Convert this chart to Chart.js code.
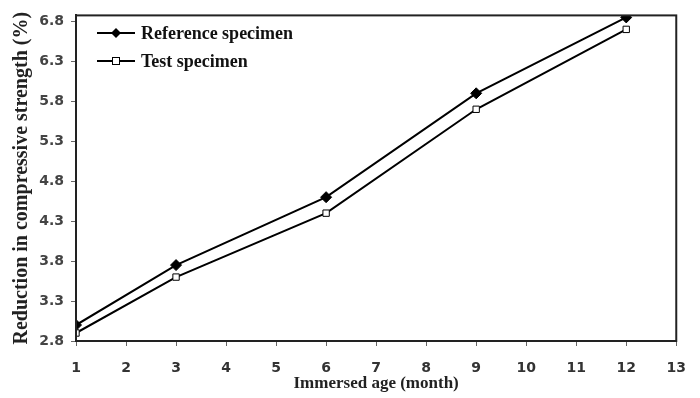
<!DOCTYPE html>
<html>
<head>
<meta charset="utf-8">
<script src="https://cdn.jsdelivr.net/npm/chart.js@4/dist/chart.umd.min.js"></script>
<style>
html,body{margin:0;padding:0;background:#fff;}
#wrap{width:700px;height:398px;}
</style>
</head>
<body>
<div id="wrap"><canvas id="c" width="700" height="398"></canvas></div>
<script>
const months = [1, 3, 6, 9, 12];
const referenceSpecimen = [3.0, 3.75, 4.6, 5.9, 6.85];
const testSpecimen = [2.9, 3.6, 4.4, 5.7, 6.7];
const yTicks = [2.8, 3.3, 3.8, 4.3, 4.8, 5.3, 5.8, 6.3, 6.8];
const xTicks = [1,2,3,4,5,6,7,8,9,10,11,12,13];

const serif = '"Liberation Serif", "Times New Roman", serif';
const sans = '"DejaVu Sans", sans-serif';

const boxPlugin = {
  id: 'box',
  afterDraw(chart) {
    const a = chart.chartArea, ctx = chart.ctx;
    ctx.save();
    ctx.strokeStyle = '#222';
    ctx.lineWidth = 2;
    ctx.strokeRect(a.left, a.top, a.right - a.left, a.bottom - a.top);
    // legend
    const items = chart.data.datasets;
    ctx.font = 'bold 18px ' + serif;
    ctx.textBaseline = 'middle';
    items.forEach((ds, i) => {
      const y = 33 + i * 28;
      ctx.strokeStyle = '#000';
      ctx.lineWidth = 2;
      ctx.beginPath(); ctx.moveTo(97, y); ctx.lineTo(135, y); ctx.stroke();
      const cx = 116;
      if (ds.pointStyle === 'rectRot') {
        ctx.fillStyle = '#000';
        ctx.beginPath();
        ctx.moveTo(cx, y - 5); ctx.lineTo(cx + 5, y); ctx.lineTo(cx, y + 5); ctx.lineTo(cx - 5, y); ctx.closePath();
        ctx.fill();
      } else {
        ctx.fillStyle = '#fff';
        ctx.lineWidth = 1;
        ctx.fillRect(cx - 3.5, y - 3.5, 7, 7);
        ctx.strokeRect(cx - 3.5, y - 3.5, 7, 7);
      }
      ctx.fillStyle = '#111';
      ctx.fillText(ds.label, 141, y + 1);
    });
    ctx.restore();
  }
};

new Chart(document.getElementById('c'), {
  type: 'line',
  data: {
    datasets: [
      {
        label: 'Reference specimen',
        data: months.map((m, i) => ({x: m, y: referenceSpecimen[i]})),
        borderColor: '#000', borderWidth: 2,
        pointStyle: 'rectRot', pointRadius: 5.5,
        pointBackgroundColor: '#000', pointBorderColor: '#000', pointBorderWidth: 1,
        tension: 0
      },
      {
        label: 'Test specimen',
        data: months.map((m, i) => ({x: m, y: testSpecimen[i]})),
        borderColor: '#000', borderWidth: 2,
        pointStyle: 'rect', pointRadius: 4.5,
        pointBackgroundColor: '#fff', pointBorderColor: '#000', pointBorderWidth: 1,
        tension: 0
      }
    ]
  },
  options: {
    responsive: false,
    animation: false,
    devicePixelRatio: 1,
    layout: { padding: { left: 0, top: 10, right: 21, bottom: 0 } },
    plugins: { legend: { display: false }, tooltip: { enabled: false } },
    scales: {
      x: {
        type: 'linear', min: 1, max: 13,
        afterBuildTicks(s) { s.ticks = xTicks.map(v => ({value: v})); },
        afterFit(s) { s.height = 57; },
        grid: { display: true, drawOnChartArea: false, drawTicks: true, tickLength: 5, color: '#666' },
        border: { display: true, color: '#222', width: 2 },
        ticks: { color: '#333', padding: 14, font: { family: sans, size: 14, weight: 'bold' }, maxRotation: 0 },
        title: { display: true, text: 'Immersed age (month)', color: '#222', padding: { top: 0, bottom: 4 },
          font: { family: serif, size: 17, weight: 'bold' } }
      },
      y: {
        type: 'linear', min: 2.8, max: 6.875,
        afterBuildTicks(s) { s.ticks = yTicks.map(v => ({value: v})); },
        afterFit(s) { s.width = 76; },
        grid: { display: true, drawOnChartArea: false, drawTicks: true, tickLength: 5, color: '#666' },
        border: { display: true, color: '#222', width: 2 },
        ticks: { color: '#444', padding: 7, font: { family: sans, size: 14, weight: 'bold' },
          callback: v => v.toFixed(1) },
        title: { display: true, text: 'Reduction in compressive strength (%)', color: '#222', padding: { top: 10, bottom: 0 },
          font: { family: serif, size: 20, weight: 'bold' } }
      }
    }
  },
  plugins: [boxPlugin]
});
</script>
</body>
</html>
